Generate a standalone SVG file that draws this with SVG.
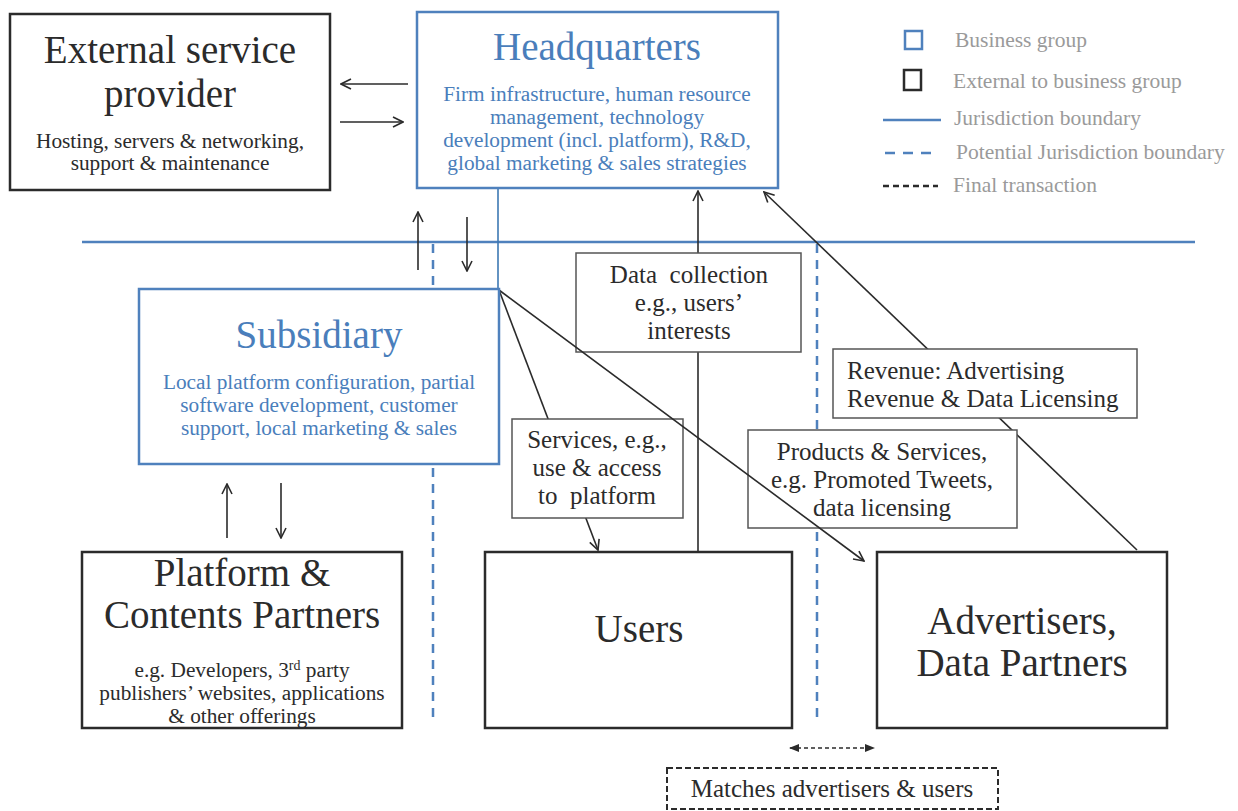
<svg xmlns="http://www.w3.org/2000/svg" width="1238" height="811" viewBox="0 0 1238 811">
<defs>
<style>
text{font-family:"Liberation Serif","DejaVu Serif",serif;fill:#2b2b2b;text-anchor:middle}
.blue{fill:#4a7ebb}
.leg{fill:#9a9a9a;text-anchor:start;font-size:21.5px}
.bbox{fill:#fff;stroke:#4f81bd;stroke-width:2.5}
.kbox{fill:#fff;stroke:#2b2b2b;stroke-width:2.5}
.lbox{fill:#fff;stroke:#555;stroke-width:1.5}
.conn{stroke:#2b2b2b;stroke-width:1.6;fill:none}
.jur{stroke:#4f81bd;stroke-width:2.5;fill:none}
.pjur{stroke:#4f81bd;stroke-width:2.5;fill:none;stroke-dasharray:9,7}
.t34{font-size:39px}.t18{font-size:21.3px}.t22{font-size:25px}
</style>
<marker id="oa" viewBox="0 0 12 12" refX="11" refY="6" markerWidth="12" markerHeight="12" markerUnits="userSpaceOnUse" orient="auto">
<path d="M1,1 L11,6 L1,11" fill="none" stroke="#2b2b2b" stroke-width="1.6"/>
</marker>
<marker id="fa" viewBox="0 0 10 10" refX="9" refY="5" markerWidth="10" markerHeight="10" markerUnits="userSpaceOnUse" orient="auto-start-reverse">
<path d="M0,1 L10,5 L0,9 Z" fill="#2b2b2b"/>
</marker>
</defs>
<rect width="1238" height="811" fill="#fff"/>

<g id="boundaries">
<line class="jur" x1="82" y1="242" x2="1195" y2="242"/>
<line class="pjur" x1="433" y1="244" x2="433" y2="722"/>
<line class="pjur" x1="817" y1="244" x2="817" y2="722"/>
<line x1="498" y1="188" x2="498" y2="290" stroke="#3d78b3" stroke-width="1.6"/>
</g>

<g id="connectors">
<line class="conn" x1="408" y1="84" x2="341" y2="84" marker-end="url(#oa)"/>
<line class="conn" x1="340" y1="122" x2="403" y2="122" marker-end="url(#oa)"/>
<line class="conn" x1="418" y1="270" x2="418" y2="212" marker-end="url(#oa)"/>
<line class="conn" x1="467" y1="217" x2="467" y2="271" marker-end="url(#oa)"/>
<line class="conn" x1="227" y1="538" x2="227" y2="484" marker-end="url(#oa)"/>
<line class="conn" x1="281" y1="483" x2="281" y2="538" marker-end="url(#oa)"/>
<line class="conn" x1="698" y1="552" x2="698" y2="191" marker-end="url(#oa)"/>
<line class="conn" x1="499" y1="290" x2="598" y2="550" marker-end="url(#oa)"/>
<line class="conn" x1="1137" y1="550" x2="764" y2="192" marker-end="url(#oa)"/>
<line x1="790" y1="748" x2="874" y2="748" stroke="#2b2b2b" stroke-width="1.6" stroke-dasharray="4,3" marker-start="url(#fa)" marker-end="url(#fa)"/>
</g>

<g id="label-data">
<rect class="lbox" x="576" y="253" width="225" height="99"/>
<text class="t22" x="689" y="283" xml:space="preserve">Data  collection</text>
<text class="t22" x="689" y="311">e.g., users’</text>
<text class="t22" x="689" y="339">interests</text>
</g>

<g id="label-services">
<rect class="lbox" x="512" y="419" width="171" height="99"/>
<text class="t22" x="597" y="448">Services, e.g.,</text>
<text class="t22" x="597" y="476">use &amp; access</text>
<text class="t22" x="597" y="504" xml:space="preserve">to  platform</text>
</g>

<g id="label-revenue">
<rect class="lbox" x="833" y="349" width="304" height="69"/>
<text class="t22" x="847" y="379" style="text-anchor:start">Revenue: Advertising</text>
<text class="t22" x="847" y="407" style="text-anchor:start">Revenue &amp; Data Licensing</text>
</g>

<g id="label-products">
<rect class="lbox" x="748" y="430" width="269" height="98"/>
<text class="t22" x="882" y="460">Products &amp; Services,</text>
<text class="t22" x="882" y="488">e.g. Promoted Tweets,</text>
<text class="t22" x="882" y="516">data licensing</text>
</g>

<g id="products-connector">
<line class="conn" x1="499" y1="290" x2="864" y2="561" marker-end="url(#oa)"/>
</g>

<g id="esp">
<rect class="kbox" x="10" y="14" width="320" height="176"/>
<text class="t34" x="170" y="63">External service</text>
<text class="t34" x="170" y="107">provider</text>
<text class="t18" x="170" y="148">Hosting, servers &amp; networking,</text>
<text class="t18" x="170" y="170">support &amp; maintenance</text>
</g>

<g id="hq">
<rect class="bbox" x="417" y="12" width="361" height="176"/>
<text class="t34 blue" x="597" y="60">Headquarters</text>
<text class="t18 blue" x="597" y="101">Firm infrastructure, human resource</text>
<text class="t18 blue" x="597" y="124">management, technology</text>
<text class="t18 blue" x="597" y="147">development (incl. platform), R&amp;D,</text>
<text class="t18 blue" x="597" y="170">global marketing &amp; sales strategies</text>
</g>

<g id="subsidiary">
<rect class="bbox" x="139" y="289" width="360" height="175"/>
<text class="t34 blue" x="319" y="348">Subsidiary</text>
<text class="t18 blue" x="319" y="389">Local platform configuration, partial</text>
<text class="t18 blue" x="319" y="412">software development, customer</text>
<text class="t18 blue" x="319" y="435">support, local marketing &amp; sales</text>
</g>

<g id="platform">
<rect class="kbox" x="82" y="552" width="320" height="176"/>
<text class="t34" x="242" y="586">Platform &amp;</text>
<text class="t34" x="242" y="628">Contents Partners</text>
<text class="t18" x="242" y="677">e.g. Developers, 3<tspan font-size="14" dy="-7">rd</tspan><tspan dy="7"> party</tspan></text>
<text class="t18" x="242" y="700">publishers’ websites, applications</text>
<text class="t18" x="242" y="723">&amp; other offerings</text>
</g>

<g id="users">
<rect class="kbox" x="485" y="552" width="307" height="176"/>
<text class="t34" x="639" y="642">Users</text>
</g>

<g id="advertisers">
<rect class="kbox" x="877" y="552" width="290" height="176"/>
<text class="t34" x="1022" y="634">Advertisers,</text>
<text class="t34" x="1022" y="676">Data Partners</text>
</g>

<g id="matches">
<rect x="667" y="768" width="331" height="41" fill="#fff" stroke="#2b2b2b" stroke-width="2" stroke-dasharray="6,3"/>
<text class="t22" x="832" y="797">Matches advertisers &amp; users</text>
</g>

<g id="legend">
<rect x="905" y="31" width="17" height="18" fill="none" stroke="#4f81bd" stroke-width="2.5"/>
<rect x="904" y="70" width="17" height="20" fill="none" stroke="#2b2b2b" stroke-width="2.5"/>
<line x1="883" y1="120" x2="941" y2="120" stroke="#4f81bd" stroke-width="2.5"/>
<line x1="885" y1="153" x2="938" y2="153" stroke="#4f81bd" stroke-width="2.5" stroke-dasharray="10,8"/>
<line x1="883" y1="186" x2="938" y2="186" stroke="#2b2b2b" stroke-width="2.5" stroke-dasharray="6,4"/>
<text class="leg" x="955" y="47">Business group</text>
<text class="leg" x="953" y="88">External to business group</text>
<text class="leg" x="954" y="125">Jurisdiction boundary</text>
<text class="leg" x="956" y="159">Potential Jurisdiction boundary</text>
<text class="leg" x="953" y="192">Final transaction</text>
</g>
</svg>
